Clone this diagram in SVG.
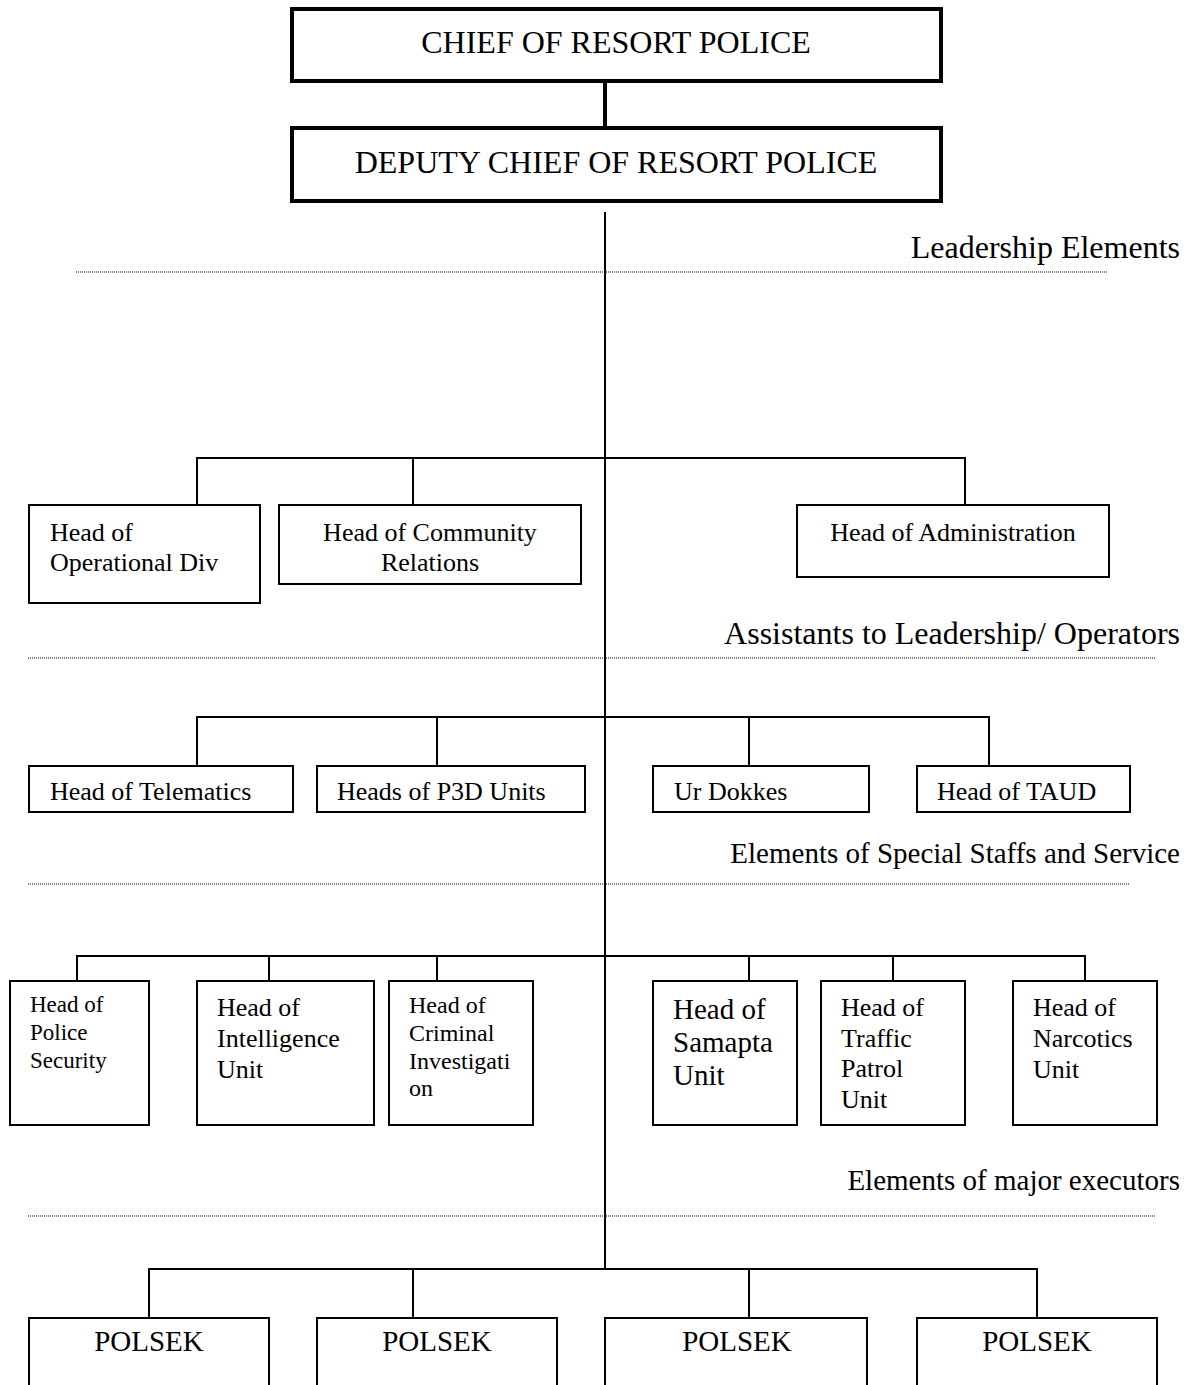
<svg xmlns="http://www.w3.org/2000/svg" width="1192" height="1385" viewBox="0 0 1192 1385">
<style>
text{font-family:"Liberation Serif","Times New Roman",serif;fill:#000}
.top{fill:#fff;stroke:#000;stroke-width:4}
.box{fill:#fff;stroke:#000;stroke-width:2}
.conn{stroke:#000;stroke-width:2;fill:none}
.dot{stroke:#000;stroke-width:1;stroke-dasharray:1 1;fill:none}
.sec{font-size:32px;text-anchor:end}
.sec2{font-size:29px;text-anchor:end}
.t26{font-size:26px}
.mid{text-anchor:middle}
</style>
<rect width="1192" height="1385" fill="#fff"/>
<g id="connectors">
<line class="conn" x1="605" y1="81" x2="605" y2="128" style="stroke-width:4"/>
<line class="conn" x1="605" y1="212" x2="605" y2="1270"/>
<path class="conn" d="M197 505V458H965V505M413 458V505"/>
<path class="conn" d="M197 766V717H989V766M437 717V766M749 717V766"/>
<path class="conn" d="M77 981V956H1085V981M269 956V981M437 956V981M749 956V981M893 956V981"/>
<path class="conn" d="M149 1318V1269H1037V1318M413 1269V1318M749 1269V1318"/>
</g>
<g id="separators">
<line class="dot" x1="76" y1="272" x2="1107" y2="272"/>
<line class="dot" x1="28" y1="658" x2="1155" y2="658"/>
<line class="dot" x1="28" y1="884" x2="1130" y2="884"/>
<line class="dot" x1="28" y1="1216" x2="1155" y2="1216"/>
<text class="sec" x="1180" y="258">Leadership Elements</text>
<text class="sec" x="1180" y="644">Assistants to Leadership/ Operators</text>
<text class="sec2" x="1180" y="863">Elements of Special Staffs and Service</text>
<text class="sec2" x="1180" y="1190">Elements of major executors</text>
</g>
<g id="chief"><rect class="top" x="292" y="9" width="649" height="72"/><text x="616" y="53" font-size="32" class="mid">CHIEF OF RESORT POLICE</text></g>
<g id="deputy"><rect class="top" x="292" y="128" width="649" height="73"/><text x="616" y="173" font-size="32" class="mid">DEPUTY CHIEF OF RESORT POLICE</text></g>
<g id="operational"><rect class="box" x="29" y="505" width="231" height="98"/><text class="t26" x="50" y="541">Head of</text><text class="t26" x="50" y="571">Operational Div</text></g>
<g id="community"><rect class="box" x="279" y="505" width="302" height="79"/><text class="t26 mid" x="430" y="541">Head of Community</text><text class="t26 mid" x="430" y="571">Relations</text></g>
<g id="administration"><rect class="box" x="797" y="505" width="312" height="72"/><text class="t26 mid" x="953" y="541">Head of Administration</text></g>
<g id="telematics"><rect class="box" x="29" y="766" width="264" height="46"/><text class="t26" x="50" y="800">Head of Telematics</text></g>
<g id="p3d"><rect class="box" x="317" y="766" width="268" height="46"/><text class="t26" x="337" y="800">Heads of P3D Units</text></g>
<g id="urdokkes"><rect class="box" x="653" y="766" width="216" height="46"/><text class="t26" x="674" y="800">Ur Dokkes</text></g>
<g id="taud"><rect class="box" x="917" y="766" width="213" height="46"/><text class="t26" x="937" y="800">Head of TAUD</text></g>
<g id="police-security"><rect class="box" x="10" y="981" width="139" height="144"/><text font-size="23" x="30" y="1012">Head of</text><text font-size="23" x="30" y="1040">Police</text><text font-size="23" x="30" y="1068">Security</text></g>
<g id="intelligence"><rect class="box" x="197" y="981" width="177" height="144"/><text class="t26" x="217" y="1016">Head of</text><text class="t26" x="217" y="1047">Intelligence</text><text class="t26" x="217" y="1078">Unit</text></g>
<g id="criminal"><rect class="box" x="389" y="981" width="144" height="144"/><text font-size="24" x="409" y="1013">Head of</text><text font-size="24" x="409" y="1041">Criminal</text><text font-size="24" x="409" y="1069">Investigati</text><text font-size="24" x="409" y="1096">on</text></g>
<g id="samapta"><rect class="box" x="653" y="981" width="144" height="144"/><text font-size="29" x="673" y="1019">Head of</text><text font-size="29" x="673" y="1052">Samapta</text><text font-size="29" x="673" y="1085">Unit</text></g>
<g id="traffic"><rect class="box" x="821" y="981" width="144" height="144"/><text class="t26" x="841" y="1016">Head of</text><text class="t26" x="841" y="1047">Traffic</text><text class="t26" x="841" y="1077">Patrol</text><text class="t26" x="841" y="1108">Unit</text></g>
<g id="narcotics"><rect class="box" x="1013" y="981" width="144" height="144"/><text class="t26" x="1033" y="1016">Head of</text><text class="t26" x="1033" y="1047">Narcotics</text><text class="t26" x="1033" y="1078">Unit</text></g>
<g id="polsek1"><rect class="box" x="29" y="1318" width="240" height="80"/><text font-size="29" class="mid" x="149" y="1351">POLSEK</text></g>
<g id="polsek2"><rect class="box" x="317" y="1318" width="240" height="80"/><text font-size="29" class="mid" x="437" y="1351">POLSEK</text></g>
<g id="polsek3"><rect class="box" x="605" y="1318" width="262" height="80"/><text font-size="29" class="mid" x="737" y="1351">POLSEK</text></g>
<g id="polsek4"><rect class="box" x="917" y="1318" width="240" height="80"/><text font-size="29" class="mid" x="1037" y="1351">POLSEK</text></g>
</svg>
